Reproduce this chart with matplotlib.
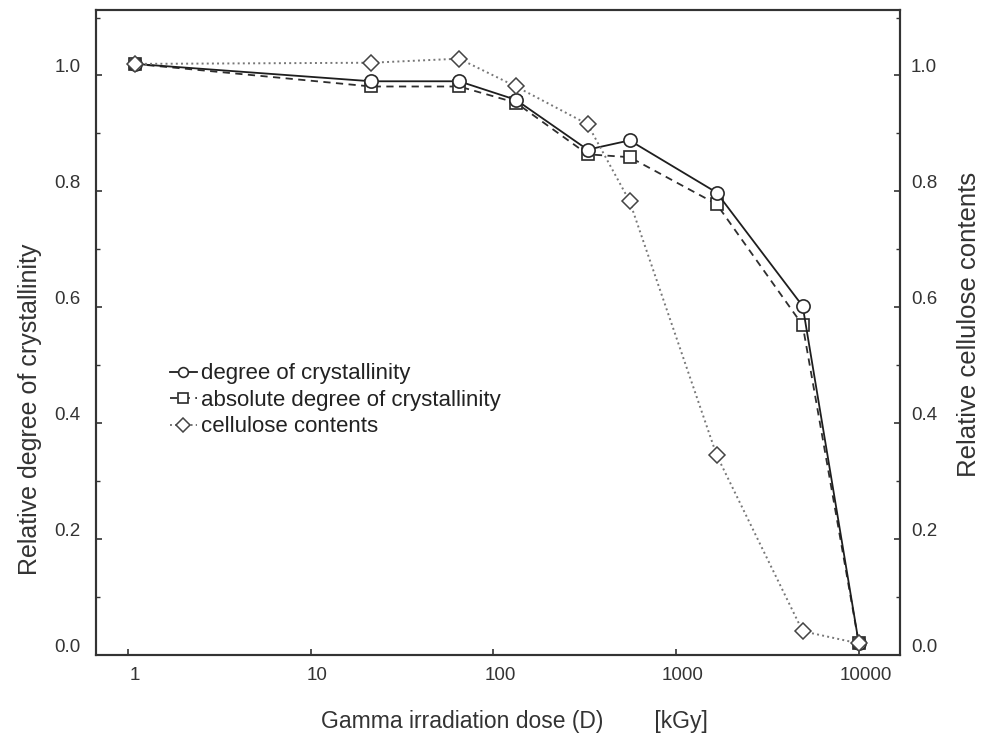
import numpy as np
import matplotlib
matplotlib.use("Agg")
import matplotlib.pyplot as plt
from matplotlib.ticker import MultipleLocator, FixedLocator, NullLocator
from matplotlib.transforms import ScaledTranslation

plt.rcParams['font.family'] = ['Liberation Sans', 'DejaVu Sans']

# data
dose = [1.09, 21.5, 65, 133, 328, 557, 1667, 4930, 10000]
crystallinity = [1.02, 0.99, 0.99, 0.958, 0.872, 0.888, 0.798, 0.602, 0.02]
abs_crystallinity = [1.02, 0.981, 0.981, 0.953, 0.864, 0.859, 0.778, 0.569, 0.02]
cellulose = [1.02, 1.022, 1.029, 0.981, 0.916, 0.783, 0.345, 0.041, 0.02]

xticks = [1, 10, 100, 1000, 10000]
xticklabels = ["1", "10", "100", "1000", "10000"]
yticks = [0.0, 0.2, 0.4, 0.6, 0.8, 1.0]

fig = plt.figure(figsize=(9.87, 7.35), dpi=100)
ax = fig.add_axes([96/987, 80/735, 804/987, 645/735])

edge = '#2a2a2a'
ax.plot(dose, crystallinity, '-', color='#1e1e1e', lw=1.3, marker='o', ms=9.5,
        mfc='white', mec=edge, mew=1.2, label='degree of crystallinity', zorder=4)
ax.plot(dose, abs_crystallinity, '--', color='#2e2e2e', lw=1.3, dashes=(4, 3),
        marker='s', ms=9, mfc='white', mec=edge, mew=1.2,
        label='absolute degree of crystallinity', zorder=3)
ax.plot(dose, cellulose, ':', color='#777777', lw=1.4, marker='D', ms=8,
        mfc='white', mec='#444444', mew=1.1, label='cellulose contents', zorder=5)

ax.set_xscale('log')
ax.set_xlim(0.67, 16800)
ax.set_ylim(0, 1.113)
ax.xaxis.set_major_locator(FixedLocator(xticks))
ax.set_xticklabels(xticklabels)
ax.xaxis.set_minor_locator(NullLocator())
ax.yaxis.set_major_locator(FixedLocator(yticks))
ax.yaxis.set_minor_locator(MultipleLocator(0.1))
ax.yaxis.set_major_formatter(matplotlib.ticker.FormatStrFormatter('%.1f'))

ax2 = ax.twinx()
ax2.set_ylim(ax.get_ylim())
ax2.yaxis.set_major_locator(FixedLocator(yticks))
ax2.yaxis.set_minor_locator(MultipleLocator(0.1))
ax2.yaxis.set_major_formatter(matplotlib.ticker.FormatStrFormatter('%.1f'))

for a in (ax, ax2):
    for s in a.spines.values():
        s.set_linewidth(1.5)
        s.set_color('#333333')
    a.tick_params(which='both', direction='in', color='#333333', labelcolor='#333333',
                  labelsize=13.5)
    a.tick_params(which='major', length=4, width=1.2)
    a.tick_params(which='minor', length=3, width=1.0)

ax.tick_params(axis='y', pad=11)
ax.tick_params(axis='x', pad=9)
ax2.tick_params(axis='y', pad=8)

# labels in the original sit a bit right / above their ticks
dx = ScaledTranslation(5/72, 0, fig.dpi_scale_trans)
dy = ScaledTranslation(0, 7/72, fig.dpi_scale_trans)
for lab in ax.get_xticklabels():
    lab.set_transform(lab.get_transform() + dx)
for lab in ax.get_yticklabels() + ax2.get_yticklabels():
    lab.set_transform(lab.get_transform() + dy)

ax.set_xlabel('Gamma irradiation dose (D)        [kGy]', fontsize=16.5, color='#333333')
ax.xaxis.set_label_coords(0.52, -0.085)
ax.set_ylabel('Relative degree of crystallinity', fontsize=18, color='#333333')
ax.yaxis.set_label_coords(-0.067, 0.381)
ax2.set_ylabel('Relative cellulose contents', fontsize=18.5, color='#333333')
ax2.yaxis.set_label_coords(1.071, 0.512)

leg = ax.legend(loc='upper left', bbox_to_anchor=(0.081, 0.466), frameon=False,
                fontsize=16, handlelength=1.2, handletextpad=0.18,
                labelspacing=0.25, borderaxespad=0)
for h in leg.legend_handles:
    h.set_markersize(7)
for t in leg.get_texts():
    t.set_color('#222222')

fig.savefig('out.png', dpi=100)
